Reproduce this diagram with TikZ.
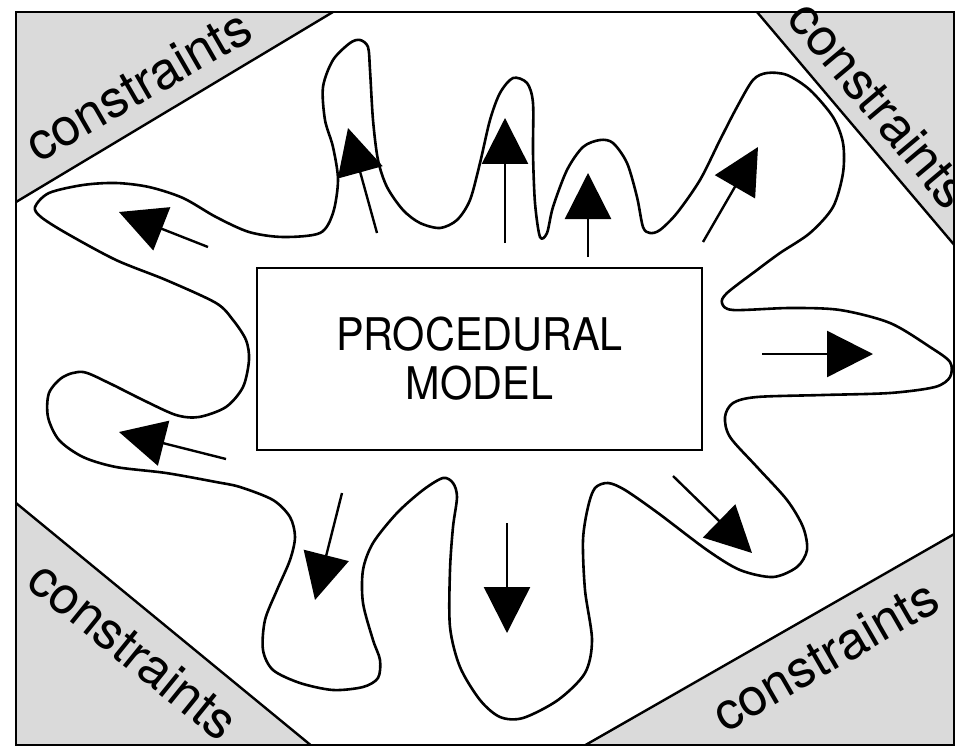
\documentclass[tikz,border=0pt]{standalone}
\usepackage{fontspec}
\setmainfont{TeX Gyre Heros}
\newfontfamily\procfont[FakeStretch=0.92]{TeX Gyre Heros}
\usetikzlibrary{arrows.meta}
\definecolor{cgray}{RGB}{218,218,218}
\tikzset{
  frameline/.style={line width=2.4pt},
  blob/.style={line width=2.6pt, line join=round},
  arr/.style={line width=2.4pt, -{Triangle[length=46pt,width=46pt]}},
  cons/.style={font=\fontsize{52}{60}\selectfont, anchor=base, inner sep=0pt},
  procbox/.style={draw, line width=2.6pt, minimum width=445pt, minimum height=182pt,
    align=center, font=\procfont\fontsize{45}{49}\selectfont}
}
\begin{document}
\begin{tikzpicture}[x=1pt,y=-1pt]
\useasboundingbox (0,0) rectangle (955,746);
% corner triangles
\fill[cgray] (16,12) -- (333,12) -- (16,202) -- cycle;
\fill[cgray] (757,12) -- (956,12) -- (956,247) -- cycle;
\fill[cgray] (16,503) -- (16,747) -- (313,747) -- cycle;
\fill[cgray] (956,533) -- (956,747) -- (582,747) -- cycle;
\draw[frameline] (333,12) -- (16,202);
\draw[frameline] (757,12) -- (956,247);
\draw[frameline] (16,503) -- (313,747);
\draw[frameline] (956,533) -- (582,747);
% frame
\draw[frameline] (16,12) rectangle (954,745);
% labels
\node[cons, rotate=30] (ctl) at (147,101) {constraints};
\node[cons, rotate=-50] (ctr) at (866,116) {constraints};
\node[cons, rotate=-39] (cbl) at (122,664) {constraints};
\node[cons, rotate=30] (cbr) at (834,671) {constraints};
% central box
\node[procbox] (box) at (479.5,359) {PROCEDURAL\\MODEL};
% blob
\draw[blob] plot[smooth cycle, tension=0.5] coordinates {
 (35,207) (49,193) (83,185) (116,183) (149,187) (183,198) (216,217) (249,232)
 (283,237) (320,233) (333,213) (338,180) (333,147) (325,120) (323,87) (333,60)
 (350,43) (360,40) (368,47) (370,70) (373,120) (378,160) (387,187) (403,210)
 (420,223) (440,228) (457,220) (470,200) (480,163) (490,120) (500,93) (513,78)
 (527,83) (533,103) (533,153) (535,203) (540,237) (547,233) (553,207) (567,170)
 (583,147) (600,140) (613,143) (627,163) (637,197) (643,227) (650,233) (660,230)
 (677,213) (700,180) (720,140) (737,107) (753,80) (767,73) (787,75) (810,90)
 (833,117) (843,143) (843,173) (833,207) (810,233) (780,253) (757,270) (727,293)
 (722,303) (733,310) (790,308) (840,310) (890,323) (930,347) (950,362) (950,377)
 (935,387) (890,393) (823,395) (757,397) (733,403) (725,417) (730,437) (757,467)
 (787,500) (803,527) (807,550) (797,567) (773,577) (740,570) (707,550) (658,513)
 (625,490) (608,483) (595,488) (588,507) (583,540) (585,590) (592,640) (585,673)
 (558,700) (523,718) (500,717) (480,700) (460,667) (450,627) (450,570) (453,527)
 (457,497) (453,483) (443,478) (423,490) (397,513) (373,543) (363,570) (363,603)
 (373,640) (380,660) (378,678) (363,687) (333,690) (300,683) (273,670) (263,650)
 (265,620) (277,590) (290,560) (295,537) (290,517) (273,500) (240,487) (216,482)
 (166,473) (116,467) (83,457) (59,440) (48,417) (49,393) (63,377) (83,372)
 (109,383) (143,400) (176,415) (199,417) (226,407) (243,387) (249,360) (246,340)
 (233,320) (216,303) (166,280) (116,260) (66,233) (41,217)
};
% arrows
\coordinate (a1s) at (208,247); \coordinate (a1e) at (119,212);
\coordinate (a2s) at (377,233); \coordinate (a2e) at (348,128);
\coordinate (a3s) at (505,243); \coordinate (a3e) at (505,118);
\coordinate (a4s) at (588,257); \coordinate (a4e) at (588,173);
\coordinate (a5s) at (703,242); \coordinate (a5e) at (758,147);
\coordinate (a6s) at (762,354); \coordinate (a6e) at (873,354);
\coordinate (a7s) at (673,476); \coordinate (a7e) at (752,553);
\coordinate (a8s) at (507,523); \coordinate (a8e) at (507,633);
\coordinate (a9s) at (342,493); \coordinate (a9e) at (315,600);
\coordinate (a10s) at (226,459); \coordinate (a10e) at (119,432);
\draw[arr] (a1s) -- (a1e);
\draw[arr] (a2s) -- (a2e);
\draw[arr] (a3s) -- (a3e);
\draw[arr] (a4s) -- (a4e);
\draw[arr] (a5s) -- (a5e);
\draw[arr] (a6s) -- (a6e);
\draw[arr] (a7s) -- (a7e);
\draw[arr] (a8s) -- (a8e);
\draw[arr] (a9s) -- (a9e);
\draw[arr] (a10s) -- (a10e);
\end{tikzpicture}
\end{document}
